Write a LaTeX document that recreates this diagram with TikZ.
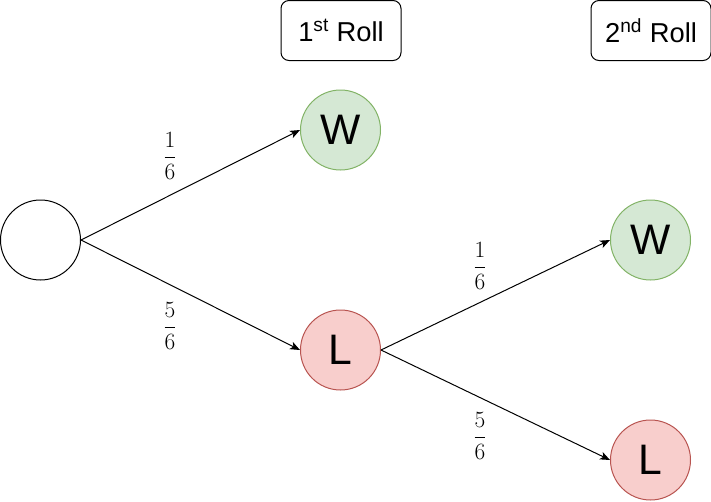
\RequirePackage{fix-cm}
\documentclass[tikz,border=0pt]{standalone}
\usepackage[no-math]{fontspec}
\setmainfont{Liberation Sans}
\usepackage{amsmath}
\usetikzlibrary{arrows.meta}
\definecolor{wfill}{HTML}{D5E8D4}
\definecolor{wdraw}{HTML}{82B366}
\definecolor{lfill}{HTML}{F8CECC}
\definecolor{ldraw}{HTML}{B85450}
\tikzset{
  st/.style={circle, minimum size=60pt, inner sep=0pt, line width=0.75pt, font=\fontsize{32}{36}\selectfont},
  rootst/.style={st, draw=black, fill=white},
  win/.style={st, draw=wdraw, fill=wfill},
  lose/.style={st, draw=ldraw, fill=lfill},
  hdr/.style={draw=black, line width=0.75pt, rounded corners=6pt, minimum width=90pt, minimum height=45pt, inner sep=0pt, font=\fontsize{20.5}{24}\selectfont},
  prob/.style={inner sep=0pt, font=\fontsize{17.5}{20}\selectfont},
  arr/.style={line width=0.75pt, -{Stealth[length=7.5pt,width=6pt,inset=2pt]}}
}
\begin{document}
\begin{tikzpicture}[x=0.75pt,y=-0.75pt]
\useasboundingbox (0,0) rectangle (711,501);
\node[hdr] (h1) at (341,30.5) {1\textsuperscript{st} Roll};
\node[hdr] (h2) at (651,30.5) {2\textsuperscript{nd} Roll};
\node[rootst] (r) at (40.5,240) {};
\node[win] (w1) at (340.5,130) {W};
\node[lose] (l1) at (340.5,350) {L};
\node[win] (w2) at (650.5,240) {W};
\node[lose] (l2) at (650.5,460) {L};
\draw[arr] (r.east) -- (w1.west);
\draw[arr] (r.east) -- (l1.west);
\draw[arr] (l1.east) -- (w2.west);
\draw[arr] (l1.east) -- (l2.west);
\node[prob] (p1) at (170,156) {$\dfrac{1}{6}$};
\node[prob] (p2) at (170,326) {$\dfrac{5}{6}$};
\node[prob] (p3) at (480,266) {$\dfrac{1}{6}$};
\node[prob] (p4) at (480,436) {$\dfrac{5}{6}$};
\end{tikzpicture}
\end{document}
